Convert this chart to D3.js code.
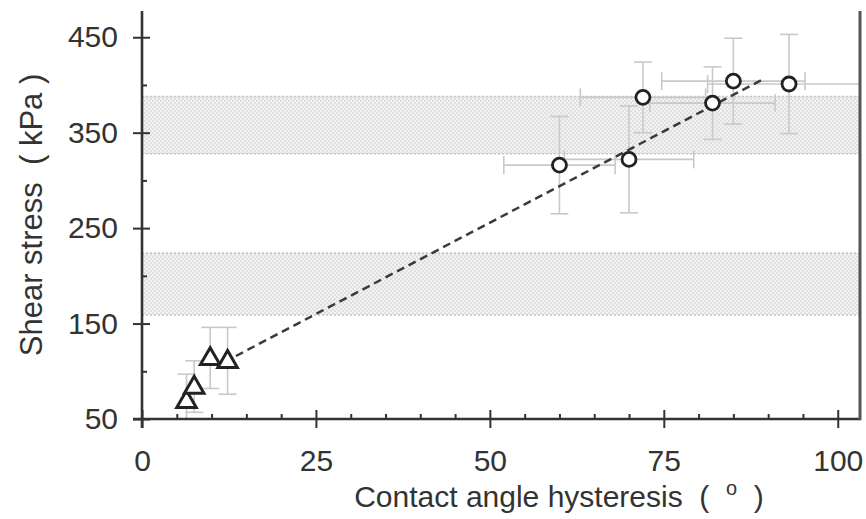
<!DOCTYPE html>
<html>
<head>
<meta charset="utf-8">
<script src="https://cdn.jsdelivr.net/npm/d3@7"></script>
<style>
  body { margin: 0; background: #fff; }
  svg { display: block; font-family: "Liberation Sans", Arial, sans-serif; }
</style>
</head>
<body>
<div id="chart"></div>
<script>
// dades llegides del grafic
const circleX    = [60, 70, 72, 82, 85, 93];
const circleY    = [316, 322, 387, 381, 404, 401];
const circleYErr = [51, 56, 37, 38, 45, 52];
const circleXErr = [8, 9.3, 9, 9, 10.3, 11.7];

const triX    = [6.4, 7.5, 9.8, 12.3];
const triY    = [69, 84, 114, 111];
const triYErr = [28, 27, 32, 35];

// bandes ombrejades (kPa)
const bandLow  = [159, 224];
const bandHigh = [328, 388];

// recta d'ajust
const fitX = [13.5, 89];
const fitY = [116, 405];

const xMajor = [0, 25, 50, 75, 100];
const xMinor = [5, 10, 15, 20, 30, 35, 40, 45, 55, 60, 65, 70, 80, 85, 90, 95];
const yMajor = [50, 150, 250, 350, 450];
const yMinor = [100, 200, 300, 400];

const W = 866, H = 519;

const svg = d3.select("#chart")
    .append("svg")
        .attr("width", W)
        .attr("height", H);

const x = d3.scaleLinear()
    .domain([0, 103.2])
    .range([142, 860]);

const y = d3.scaleLinear()
    .domain([50, 477.5])
    .range([419, 11]);

// patro de la textura de les bandes
const defs = svg.append("defs");
const pat = defs.append("pattern")
    .attr("id", "dots")
    .attr("patternUnits", "userSpaceOnUse")
    .attr("width", 4)
    .attr("height", 4);
pat.append("rect").attr("width", 4).attr("height", 4).attr("fill", "#f2f2f2");
pat.append("rect").attr("x", 0).attr("y", 0).attr("width", 2).attr("height", 2).attr("fill", "#e0e0e0");
pat.append("rect").attr("x", 2).attr("y", 2).attr("width", 2).attr("height", 2).attr("fill", "#e0e0e0");

defs.append("clipPath").attr("id", "plotclip")
    .append("rect")
        .attr("x", x(0))
        .attr("y", y(477.5))
        .attr("width", x(103.2) - x(0))
        .attr("height", y(50) - y(477.5));

const plot = svg.append("g").attr("clip-path", "url(#plotclip)");

// bandes
[bandLow, bandHigh].forEach(function(b) {
    plot.append("rect")
        .attr("x", x(0))
        .attr("y", y(b[1]))
        .attr("width", x(103.2) - x(0))
        .attr("height", y(b[0]) - y(b[1]))
        .attr("fill", "url(#dots)");
    b.forEach(function(v) {
        plot.append("line")
            .attr("x1", x(0)).attr("x2", x(103.2))
            .attr("y1", y(v)).attr("y2", y(v))
            .attr("stroke", "#c4c4c4")
            .attr("stroke-width", 1.5)
            .attr("stroke-dasharray", "2,2");
    });
});

// barres d'error
const errColor = "#c9c9c9";
const cap = 9;
const errG = plot.append("g")
    .attr("stroke", errColor)
    .attr("stroke-width", 1.6)
    .attr("fill", "none");

function vErr(cx, cy, e) {
    errG.append("line").attr("x1", x(cx)).attr("x2", x(cx)).attr("y1", y(cy - e)).attr("y2", y(cy + e));
    errG.append("line").attr("x1", x(cx) - cap).attr("x2", x(cx) + cap).attr("y1", y(cy + e)).attr("y2", y(cy + e));
    errG.append("line").attr("x1", x(cx) - cap).attr("x2", x(cx) + cap).attr("y1", y(cy - e)).attr("y2", y(cy - e));
}
function hErr(cx, cy, e) {
    errG.append("line").attr("x1", x(cx - e)).attr("x2", x(cx + e)).attr("y1", y(cy)).attr("y2", y(cy));
    errG.append("line").attr("x1", x(cx - e)).attr("x2", x(cx - e)).attr("y1", y(cy) - cap).attr("y2", y(cy) + cap);
    errG.append("line").attr("x1", x(cx + e)).attr("x2", x(cx + e)).attr("y1", y(cy) - cap).attr("y2", y(cy) + cap);
}

circleX.forEach(function(cx, i) {
    hErr(cx, circleY[i], circleXErr[i]);
    vErr(cx, circleY[i], circleYErr[i]);
});
triX.forEach(function(tx, i) {
    vErr(tx, triY[i], triYErr[i]);
});

// recta d'ajust discontinua
plot.append("line")
    .attr("x1", x(fitX[0])).attr("y1", y(fitY[0]))
    .attr("x2", x(fitX[1])).attr("y2", y(fitY[1]))
    .attr("stroke", "#3a3a3a")
    .attr("stroke-width", 2.5)
    .attr("stroke-dasharray", "8,5");

// cercles
plot.selectAll(".cercles")
    .data(circleX)
    .enter()
    .append("circle")
        .attr("class", "cercles")
        .attr("cx", d => x(d))
        .attr("cy", (d, i) => y(circleY[i]))
        .attr("r", 7)
        .attr("fill", "#fff")
        .attr("stroke", "#222")
        .attr("stroke-width", 2.8);

// triangles
const tri = d3.symbol().type(d3.symbolTriangle).size(165);
plot.selectAll(".triangles")
    .data(triX)
    .enter()
    .append("path")
        .attr("class", "triangles")
        .attr("d", tri)
        .attr("transform", (d, i) => `translate(${x(d)}, ${y(triY[i]) + 1})`)
        .attr("fill", "#fff")
        .attr("stroke", "#222")
        .attr("stroke-width", 3)
        .attr("stroke-linejoin", "miter");

// eixos
const axisColor = "#333";

// Eix Y
svg.append("g")
    .attr("transform", `translate(${x(0)}, 0)`)
    .call(d3.axisLeft(y).tickValues(yMajor).tickSize(9).tickPadding(15));
svg.append("g")
    .attr("transform", `translate(${x(0)}, 0)`)
    .call(d3.axisLeft(y).tickValues(yMajor).tickSize(-8).tickFormat(""));
svg.append("g")
    .attr("transform", `translate(${x(0)}, 0)`)
    .call(d3.axisLeft(y).tickValues(yMinor).tickSize(-5).tickFormat(""));

// Eix X
svg.append("g")
    .attr("transform", `translate(0, ${y(50)})`)
    .call(d3.axisBottom(x).tickValues(xMajor).tickSize(9).tickPadding(22));
svg.append("g")
    .attr("transform", `translate(0, ${y(50)})`)
    .call(d3.axisBottom(x).tickValues(xMajor).tickSize(-9).tickFormat(""));
svg.append("g")
    .attr("transform", `translate(0, ${y(50)})`)
    .call(d3.axisBottom(x).tickValues(xMinor).tickSize(-5).tickFormat(""));

svg.selectAll(".domain").remove();
svg.selectAll(".tick line")
    .attr("stroke", axisColor)
    .attr("stroke-width", 2);
svg.selectAll(".tick text")
    .attr("fill", "#333")
    .style("font-size", "30px");

// linies dels eixos
svg.append("line")
    .attr("x1", x(0)).attr("x2", x(0))
    .attr("y1", y(477.5)).attr("y2", y(50) + 9)
    .attr("stroke", axisColor).attr("stroke-width", 2.6);
svg.append("line")
    .attr("x1", x(0) - 9).attr("x2", x(103.2))
    .attr("y1", y(50)).attr("y2", y(50))
    .attr("stroke", axisColor).attr("stroke-width", 2.6);
svg.append("line")
    .attr("x1", x(103.2)).attr("x2", x(103.2))
    .attr("y1", y(477.5)).attr("y2", y(50) + 1.3)
    .attr("stroke", "#555").attr("stroke-width", 3);

// titols
svg.append("text")
    .attr("transform", `translate(42, 215) rotate(-90)`)
    .attr("text-anchor", "middle")
    .style("font-size", "31px")
    .style("white-space", "pre")
    .attr("fill", "#333")
    .text("Shear stress  ( kPa )");

const xt = svg.append("text")
    .attr("x", 559)
    .attr("y", 507)
    .attr("text-anchor", "middle")
    .style("font-size", "30px")
    .style("white-space", "pre")
    .attr("fill", "#333");
xt.append("tspan").text("Contact angle hysteresis  (  ");
xt.append("tspan").attr("dy", -12).style("font-size", "20px").text("o");
xt.append("tspan").attr("dy", 12).text("  )");
</script>
</body>
</html>
